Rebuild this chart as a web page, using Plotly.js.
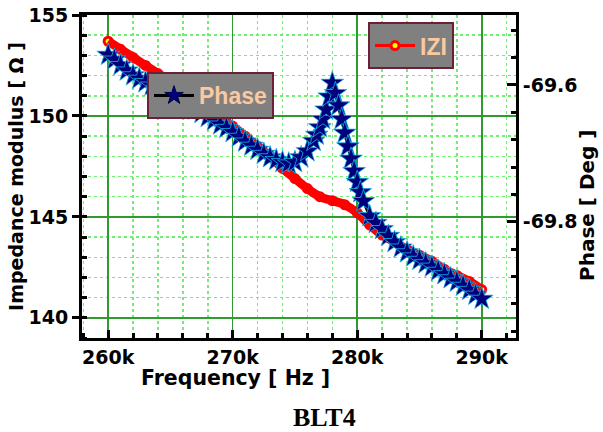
<!DOCTYPE html>
<html>
<head>
<meta charset="utf-8">
<script src="https://cdn.plot.ly/plotly-3.0.1.min.js"></script>
<style>html,body{margin:0;padding:0;background:#fff;}#chart{width:603px;height:432px;}</style>
</head>
<body>
<div id="chart"></div>
<script>
// Impedance modulus |Z| (left axis, Ω) vs frequency (Hz)
const freqZ = [260000,261000,262000,263000,264000,265000,266000,267000,268000,269000,
               270000,271000,272000,273000,274000,275000,276000,277000,278000,279000,
               280000,281000,282000,283000,284000,285000,286000,287000,288000,289000,290000];
const impedance = [153.7,153.3,152.9,152.5,152.1,151.7,151.3,150.9,150.4,149.95,
                   149.5,149.0,148.5,148.0,147.4,146.9,146.4,146.0,145.8,145.6,
                   145.2,144.6,144.1,143.75,143.4,143.1,142.8,142.4,142.1,141.8,141.4];

// Phase (right axis, Deg) vs frequency (Hz)
const freqP = [260000,260500,261000,261500,262000,262500,263000,263500,264000,264500,
               265000,265500,266000,266500,267000,267500,268000,268500,269000,269500,
               270000,270500,271000,271500,272000,272500,273000,273500,274000,274500,
               275000,275500,276000,276500,276750,277000,277250,277500,277750,278000,
               278250,278500,278750,279000,279250,279500,279750,280000,280250,280500,
               281000,281500,282000,282500,283000,283500,284000,284500,285000,285500,
               286000,286500,287000,287500,288000,288500,289000,289500,290000];
const phase = [-69.556,-69.563,-69.571,-69.579,-69.586,-69.591,-69.596,-69.601,-69.606,-69.611,
               -69.616,-69.620,-69.624,-69.630,-69.636,-69.641,-69.647,-69.652,-69.658,-69.663,
               -69.669,-69.676,-69.683,-69.689,-69.695,-69.701,-69.706,-69.710,-69.713,-69.715,
               -69.713,-69.706,-69.697,-69.682,-69.673,-69.662,-69.650,-69.636,-69.617,-69.597,
               -69.612,-69.630,-69.650,-69.670,-69.690,-69.708,-69.726,-69.742,-69.757,-69.770,
               -69.792,-69.802,-69.811,-69.821,-69.830,-69.838,-69.845,-69.851,-69.856,-69.861,
               -69.866,-69.872,-69.877,-69.883,-69.888,-69.894,-69.900,-69.907,-69.913];

const phaseTickVals = [-69.8, -69.6];
const phaseTickText = ['-69.8', '-69.6'];
const seriesNames = ['IZI', 'Phase'];
const xTitle = 'Frequency [ Hz ]';
const yTitle = 'Impedance modulus [ Ω ]';
const y2Title = 'Phase [ Deg ]';
const caption = 'BLT4';

const tickFont = {family: 'DejaVu Sans', size: 19, color: '#000', weight: 'bold'};
const titleFont = {family: 'DejaVu Sans', size: 19, color: '#000', weight: 'bold'};
const legendFont = {family: 'Liberation Sans', size: 23, color: '#F9C9A2', weight: 'bold'};

const traces = [
  { // legend carrier for |Z| (line + yellow-centred red circles), hidden under the red band
    x: freqZ, y: impedance, name: seriesNames[0], type: 'scatter', mode: 'lines+markers',
    line: {color: '#ff0000', width: 3, shape: 'spline'},
    marker: {symbol: 'circle', size: 8, color: '#ffff00', line: {color: '#ff0000', width: 3}},
    legend: 'legend', yaxis: 'y', xaxis: 'x'
  },
  { // thick red |Z| band
    x: freqZ, y: impedance, name: seriesNames[0], type: 'scatter', mode: 'lines',
    line: {color: '#ff0000', width: 9, shape: 'spline'},
    showlegend: false, yaxis: 'y', xaxis: 'x'
  },
  { // legend carrier for Phase (black line + navy star), hidden under the star band
    x: freqP, y: phase, name: seriesNames[1], type: 'scatter', mode: 'lines+markers',
    line: {color: '#000000', width: 3},
    marker: {symbol: 'star', size: 14, color: '#00007a', line: {color: '#000050', width: 1}},
    legend: 'legend2', yaxis: 'y2', xaxis: 'x'
  },
  { // visible Phase star band
    x: freqP, y: phase, name: seriesNames[1], type: 'scatter', mode: 'markers',
    marker: {symbol: 'star', size: 17, color: '#00007a', line: {color: '#19b5e8', width: 0.8}},
    showlegend: false, yaxis: 'y2', xaxis: 'x'
  }
];

const layout = {
  width: 603, height: 432,
  margin: {l: 82, r: 87, t: 15, b: 94, pad: 0},
  paper_bgcolor: '#ffffff', plot_bgcolor: '#ffffff',
  xaxis: {
    range: [257900, 292750], tick0: 260000, dtick: 10000, tickformat: '~s',
    ticks: 'inside', ticklen: 8, tickwidth: 3, tickcolor: '#000',
    showline: true, linewidth: 3, linecolor: '#000', mirror: true,
    showgrid: true, gridcolor: '#2f9a2f', gridwidth: 1.5, zeroline: false,
    minor: {tick0: 260000, dtick: 2000, ticks: 'inside', ticklen: 5, tickwidth: 3, tickcolor: '#000',
            showgrid: true, gridcolor: '#6fef6f', griddash: 'dot', gridwidth: 1.5},
    tickfont: tickFont
  },
  yaxis: {
    range: [139, 155], tick0: 140, dtick: 5,
    ticks: 'outside', ticklen: 7, tickwidth: 3, tickcolor: '#000',
    showline: true, linewidth: 3, linecolor: '#000',
    showgrid: true, gridcolor: '#2f9a2f', gridwidth: 1.5, zeroline: false,
    minor: {tick0: 140, dtick: 1, ticks: 'inside', ticklen: 5, tickwidth: 3, tickcolor: '#000',
            showgrid: true, gridcolor: '#6fef6f', griddash: 'dot', gridwidth: 1.5},
    tickfont: tickFont,
    title: {text: yTitle, font: titleFont, standoff: 0}
  },
  yaxis2: {
    overlaying: 'y', side: 'right',
    range: [-69.9702, -69.4976],
    tickmode: 'array', tickvals: phaseTickVals, ticktext: phaseTickText,
    ticks: 'inside', ticklen: 9, tickwidth: 3, tickcolor: '#000',
    showline: true, linewidth: 3, linecolor: '#000',
    showgrid: false, zeroline: false,
    minor: {tickmode: 'linear', tick0: -69.6, dtick: 0.04, ticks: 'inside', ticklen: 5, tickwidth: 3,
            tickcolor: '#000', showgrid: false},
    tickfont: tickFont
  },
  legend: {
    x: 0.659, y: 0.978, xanchor: 'left', yanchor: 'top',
    bgcolor: '#808080', bordercolor: '#6b2035', borderwidth: 2,
    font: legendFont, itemwidth: 40
  },
  legend2: {
    x: 0.1498, y: 0.8235, xanchor: 'left', yanchor: 'top',
    bgcolor: '#808080', bordercolor: '#6b2035', borderwidth: 2,
    font: legendFont, itemwidth: 40
  },
  annotations: [
    { // x-axis title (placed as in the reference, left of centre)
      text: xTitle, xref: 'paper', yref: 'paper', x: (235 - 82) / 434, y: (338 - 378) / 323,
      xanchor: 'center', yanchor: 'middle', showarrow: false,
      font: Object.assign({}, titleFont, {size: 20.5})
    },
    { // right-axis title
      text: y2Title, xref: 'paper', yref: 'paper', x: (587 - 82) / 434, y: (338 - 205) / 323,
      xanchor: 'center', yanchor: 'middle', showarrow: false, textangle: -90,
      font: Object.assign({}, titleFont, {size: 20})
    },
    {
      text: caption, xref: 'paper', yref: 'paper', x: (324 - 82) / 434, y: (338 - 417) / 323,
      xanchor: 'center', yanchor: 'middle', showarrow: false,
      font: {family: 'Liberation Serif', size: 26, color: '#000', weight: 'bold'}
    }
  ]
};

Plotly.newPlot('chart', traces, layout, {displayModeBar: false, staticPlot: true});
</script>
</body>
</html>
